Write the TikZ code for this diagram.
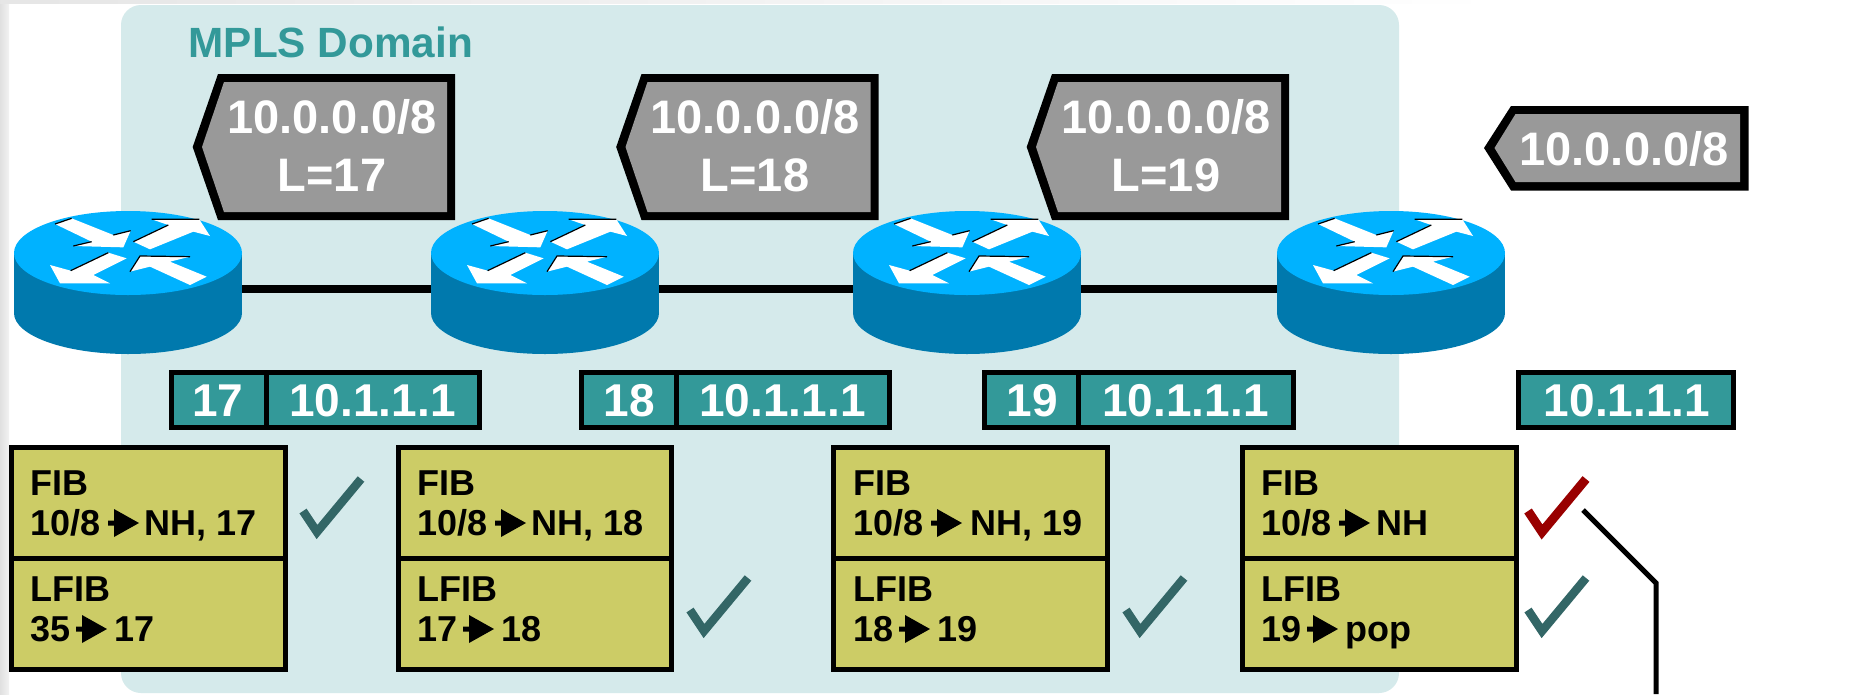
\documentclass[tikz,border=0pt]{standalone}
\usepackage{fontspec}
\setmainfont{Liberation Sans}
\definecolor{domainfill}{HTML}{D5EAEB}
\definecolor{routertop}{HTML}{00B2FF}
\definecolor{routerside}{HTML}{0079AD}
\definecolor{labelgrey}{HTML}{999999}
\definecolor{teal}{HTML}{339999}
\definecolor{tablefill}{HTML}{CCCC66}
\definecolor{checkteal}{HTML}{336666}
\definecolor{checkred}{HTML}{990000}
\tikzset{
  px/.style={x=1pt,y=-1pt},
  hidden/.style={inner sep=0pt,outer sep=0pt,minimum width=#1,minimum height=1pt},
  link/.style={line width=8pt,draw=black},
  whitetxt/.style={text=white,font=\bfseries\fontsize{47}{47}\selectfont,inner sep=0pt,anchor=base},
  shimtxt/.style={text=white,font=\bfseries\fontsize{46}{46}\selectfont,inner sep=0pt,anchor=base},
  tabtxt/.style={text=black,font=\bfseries\fontsize{36}{36}\selectfont,inner sep=0pt,anchor=base west},
  titletxt/.style={text=teal,font=\bfseries\fontsize{42.3}{42.3}\selectfont,inner sep=0pt,anchor=base west},
  cell/.style={draw=black,line width=5pt,fill=tablefill,inner sep=0pt,outer sep=0pt,anchor=north west},
  shimcell/.style={draw=black,line width=5pt,fill=teal,inner sep=0pt,outer sep=0pt,anchor=north west},
  checkmark/.style={line width=8.5pt,miter limit=10},
  leader/.style={line width=5pt,draw=black},
  arrowshape/.style={fill=white},
  arrowedge/.style={draw=black,line width=1.2pt},
}
\newcommand{\routerpic}[1]{%
  \fill[routerside] (#1,313) ellipse [x radius=114pt,y radius=41pt];
  \fill[routerside] (#1-114,254) rectangle (#1+114,313);
  \fill[routertop] (#1,253) ellipse [x radius=114pt,y radius=42pt];
  \begin{scope}[shift={(#1,254)},x=0.33333pt,y=-0.33333pt]
    \fill[arrowshape] (-219,-90)--(-169,-107)--(-44,-57)--(8,-70)--(-14,-20)--(-164,-24)--(-109,-37)--cycle;
    \fill[arrowshape] (16,-37)--(121,-87)--(71,-104)--(214,-104)--(246,-54)--(196,-67)--(66,-14)--cycle;
    \fill[arrowshape] (-4,13)--(-104,63)--(-54,88)--(-204,88)--(-234,33)--(-172,50)--(-59,-4)--cycle;
    \fill[arrowshape] (236,68)--(186,93)--(66,38)--(6,53)--(36,6)--(186,8)--(126,23)--cycle;
    \draw[arrowedge] (-164,-24)--(-109,-37) (-44,-57)--(8,-70) (-219,-90)--(-169,-107);
    \draw[arrowedge] (16,-37)--(121,-87) (71,-104)--(214,-104);
    \draw[arrowedge] (-172,50)--(-59,-4);
    \draw[arrowedge] (6,53)--(36,6)--(186,8);
  \end{scope}}
% tall grey tag: #1 id, #2 x shift, #3 text centre, #4 second line
\newcommand{\tallTag}[4]{%
  \fill[black] (192.7+#2,147)--(218+#2,74)--(455+#2,74)--(455+#2,220)--(218+#2,220)--cycle;
  \fill[labelgrey] (202+#2,147)--(224+#2,82)--(447+#2,82)--(447+#2,212)--(224+#2,212)--cycle;
  \node[whitetxt] (tag#1a) at (#3,133) {10.0.0.0/8};
  \node[whitetxt] (tag#1b) at (#3,191) {#4};}
% small arrow between table entries: x start, baseline
\newcommand{\tabarrow}[2]{%
  \fill[black] (#1,#2-14.5)--(#1+6,#2-14.5)--(#1+6,#2-26)--(#1+31,#2-12)--(#1+6,#2+2)--(#1+6,#2-9.5)--(#1,#2-9.5)--cycle;}
% table: #1 id, #2 left outer, #3 right outer, #4 text x, #5 fib right text, #6 lfib left, #7 lfib right text, #8 NH offset
\newcommand{\tablebox}[8]{%
  \pgfmathsetmacro{\cw}{#3-#2-5}
  \node[cell,minimum width=\cw pt,minimum height=110.5pt] (fib#1) at (#2+2.5,447.5) {};
  \node[cell,minimum width=\cw pt,minimum height=111.5pt] (lfib#1) at (#2+2.5,558) {};
  \node[tabtxt] (fibt#1) at (#4,495) {FIB};
  \node[tabtxt] (fiba#1) at (#4,535) {10/8};
  \tabarrow{#4+78}{535}
  \node[tabtxt] (fibb#1) at (#4+#8,535) {#5};
  \node[tabtxt] (lfibt#1) at (#4,601) {LFIB};
  \node[tabtxt] (lfiba#1) at (#4,641) {#6};
  \tabarrow{#4+46}{641}
  \node[tabtxt] (lfibb#1) at (#4+84,641) {#7};}
% shim: #1 id, #2 left outer, #3 divider x, #4 right outer, #5 label, #6 label centre, #7 addr centre
\newcommand{\shim}[7]{%
  \pgfmathsetmacro{\wa}{#3-#2-2.5}
  \pgfmathsetmacro{\wb}{#4-#3-2.5}
  \node[shimcell,minimum width=\wa pt,minimum height=55pt] (lab#1) at (#2+2.5,372.5) {};
  \node[shimcell,minimum width=\wb pt,minimum height=55pt] (adr#1) at (#3,372.5) {};
  \node[shimtxt] (labt#1) at (#6,416) {#5};
  \node[shimtxt] (adrt#1) at (#7,416) {10.1.1.1};}
\newcommand{\tick}[3]{%
  \draw[checkmark,draw=#1] (#2,#3)--(#2+14,#3+21)--(#2+58,#3-32);}
\begin{document}
\begin{tikzpicture}[px]
\useasboundingbox (0,0) rectangle (1849,694);
\fill[white] (0,0) rectangle (1849,694);
\shade[left color=black!12,right color=black!5] (0,0) rectangle (9,694);
\shade[left color=black!10,right color=white] (0,0) rectangle (1500,3);
% domain
\fill[domainfill,rounded corners=20pt] (121,5) rectangle (1399,693);
\node[titletxt] (title) at (188.5,57) {MPLS Domain};
% tags
\tallTag{1}{0}{332}{L=17}
\tallTag{2}{423.5}{755}{L=18}
\tallTag{3}{834}{1166}{L=19}
\fill[black] (1484,148)--(1511,106)--(1748.5,106)--(1748.5,190.5)--(1511,190.5)--cycle;
\fill[labelgrey] (1494.5,148)--(1515.5,114)--(1740,114)--(1740,182)--(1515.5,182)--cycle;
\node[whitetxt] (tag4) at (1624,165) {10.0.0.0/8};
% routers and links
\node[hidden=228pt] (r1) at (128,288.5) {};
\node[hidden=227pt] (r2) at (545,288.5) {};
\node[hidden=228pt] (r3) at (967,288.5) {};
\node[hidden=227pt] (r4) at (1391,288.5) {};
\draw[link] (r1.east)--(r2.west);
\draw[link] (r2.east)--(r3.west);
\draw[link] (r3.east)--(r4.west);
\routerpic{128}
\routerpic{545}
\routerpic{967}
\routerpic{1391}
% shims
\shim{1}{169}{266}{482}{17}{218}{372.5}
\shim{2}{579}{676}{892}{18}{629}{782.5}
\shim{3}{982}{1078}{1296}{19}{1032}{1185.5}
\node[shimcell,minimum width=215pt,minimum height=55pt] (adr4) at (1518.5,372.5) {};
\node[shimtxt] (adrt4) at (1627,416) {10.1.1.1};
% tables
\tablebox{1}{9}{288}{30}{NH, 17}{35}{17}{114}
\tablebox{2}{396}{674}{417}{NH, 18}{17}{18}{114}
\tablebox{3}{831}{1110}{853}{NH, 19}{18}{19}{117}
\tablebox{4}{1240}{1519}{1261}{NH}{19}{pop}{115}
% checks
\tick{checkteal}{303}{511}
\tick{checkteal}{690}{610}
\tick{checkteal}{1126}{610}
\tick{checkteal}{1528}{610}
\draw[checkmark,draw=checkred,line width=9pt] (1528,511)--(1542,532)--(1586,479);
% leader
\coordinate (l1) at (1583,510);
\coordinate (l2) at (1656,583);
\coordinate (l3) at (1656,694);
\draw[leader] (l1)--(l2)--(l3);
\end{tikzpicture}
\end{document}
